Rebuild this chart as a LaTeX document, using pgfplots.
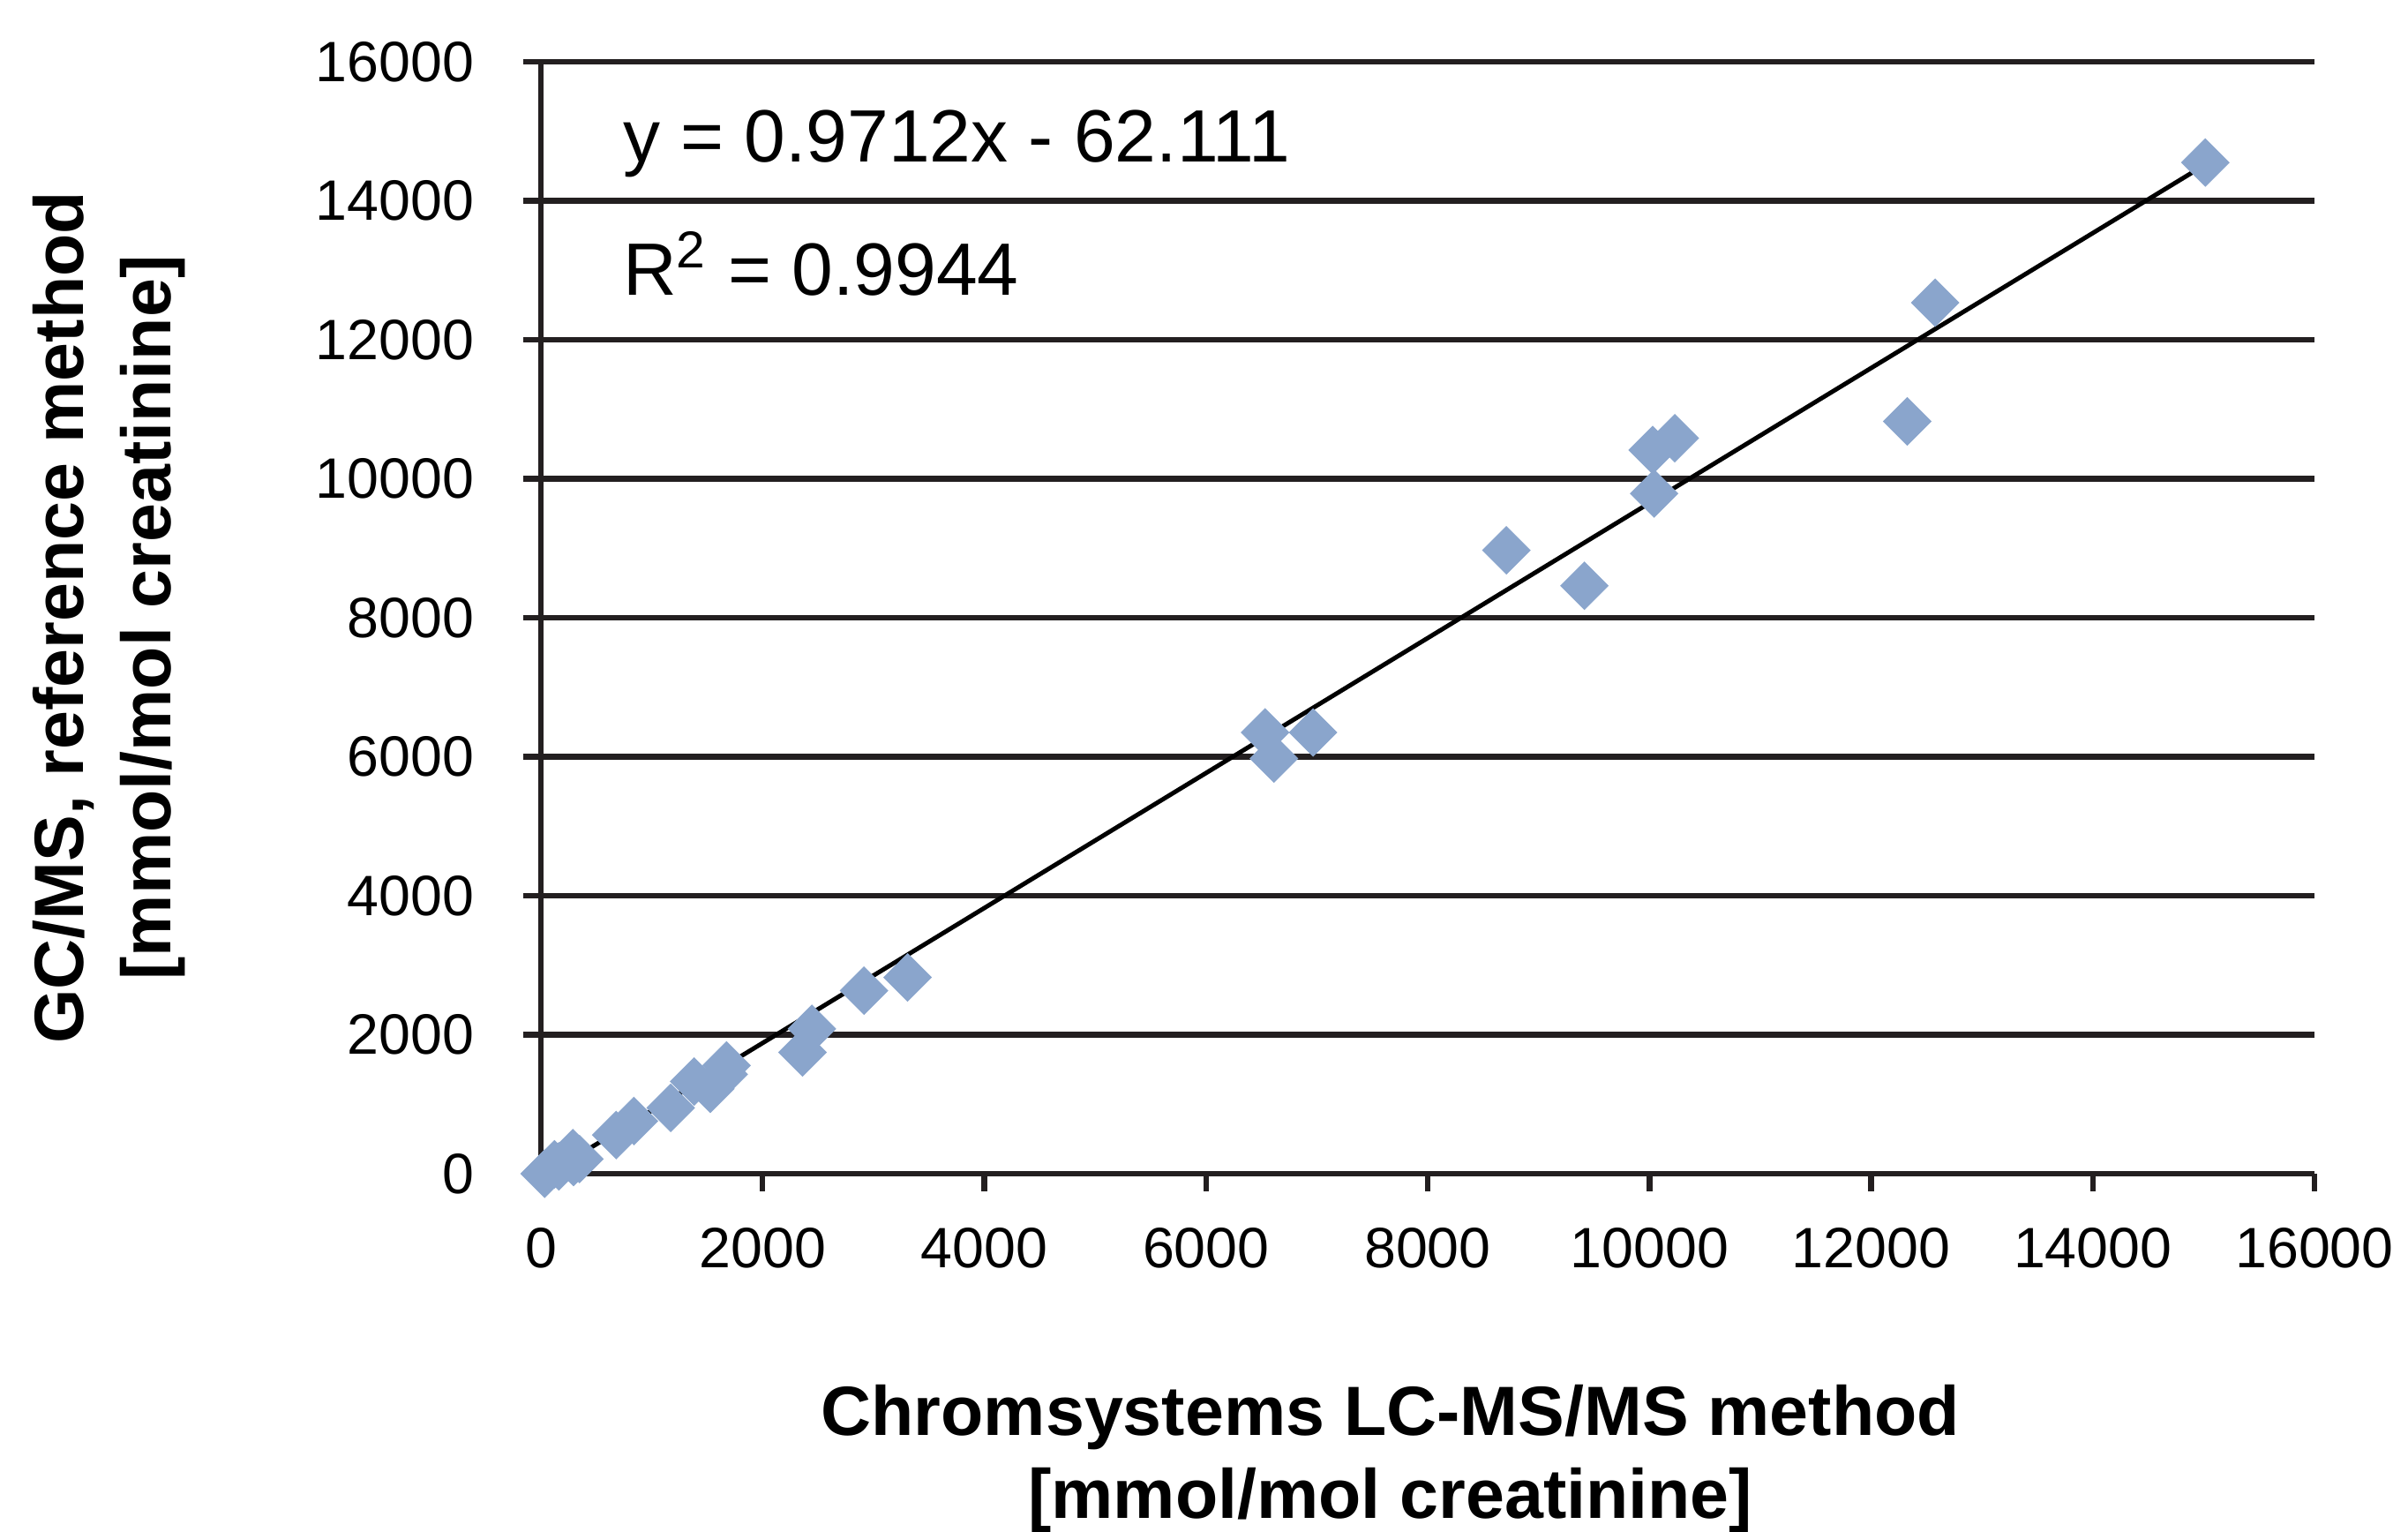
\documentclass[border=0pt]{standalone}
\usepackage{fontspec}
\setmainfont{Liberation Sans}
\usepackage{pgfplots}
\pgfplotsset{compat=1.18}
\definecolor{gridblack}{HTML}{231F20}
\definecolor{markblue}{RGB}{138,165,204}

\begin{document}
\begin{tikzpicture}
\begin{axis}[
  at={(0,0)}, anchor=south west,
  scale only axis, width=402pt, height=252pt,
  xmin=0, xmax=16000, ymin=0, ymax=16000,
  xtick={0,2000,...,16000}, ytick={0,2000,...,16000},
  scaled ticks=false,
  axis x line*=bottom, axis y line*=left,
  axis line style={line width=1.3pt, gridblack, -},
  ymajorgrids, major grid style={line width=1.3pt, gridblack},
  tick align=outside, major tick length=4pt,
  tick style={line width=1.3pt, gridblack},
  /pgf/number format/1000 sep={},
  /pgf/number format/assume math mode=true,
  ticklabel style={font=\fontsize{12.9}{15}\selectfont, inner sep=0pt},
  xticklabel shift=8pt, yticklabel shift=11pt,
  clip=false,
  xlabel={Chromsystems LC-MS/MS method\\{[mmol/mol creatinine]}},
  xlabel style={at={(axis description cs:0.479,-0.1893)}, anchor=north,
    inner sep=0pt, align=center, font=\fontsize{15.8}{18.8}\selectfont\bfseries},
  ylabel={GC/MS, reference method\\{[mmol/mol creatinine]}},
  ylabel style={at={(axis description cs:-0.287,0.5)}, anchor=north,
    inner sep=0pt, align=center, font=\fontsize{15.8}{19.8}\selectfont\bfseries},
]
% measured points
\addplot[only marks, mark=square*, mark size=3.7pt,
  mark options={rotate=45, fill=markblue, draw=markblue}] coordinates {
  (34,0) (122,135) (162,105) (295,168) (289,295) (348,211)
  (679,556) (839,758) (1171,947) (1383,1326) (1529,1221) (1650,1430) (1675,1558)
  (2360,1746) (2445,2085) (2915,2634) (3308,2824)
  (6533,6349) (6613,5974) (6966,6349)
  (8710,8970) (9414,8460) (10043,9787) (10030,10413) (10229,10583)
  (12326,10825) (12578,12533) (15015,14550)
};
% linear fit y = 0.9712x - 62.111
\addplot[black, line width=1pt] coordinates {(34,-29.1) (15015,14520.5)};
\node[anchor=base west, inner sep=0pt, font=\fontsize{16.8}{20}\selectfont]
  at (axis description cs:0.0458,0.91) {y = 0.9712x - 62.111};
\node[anchor=base west, inner sep=0pt, font=\fontsize{16.8}{20}\selectfont]
  at (axis description cs:0.0458,0.79) {R\textsuperscript{2} = 0.9944};
\end{axis}
\pgfresetboundingbox
\path (-122.6pt,-81.2pt) rectangle (423.2pt,266pt);
\end{tikzpicture}
\end{document}
